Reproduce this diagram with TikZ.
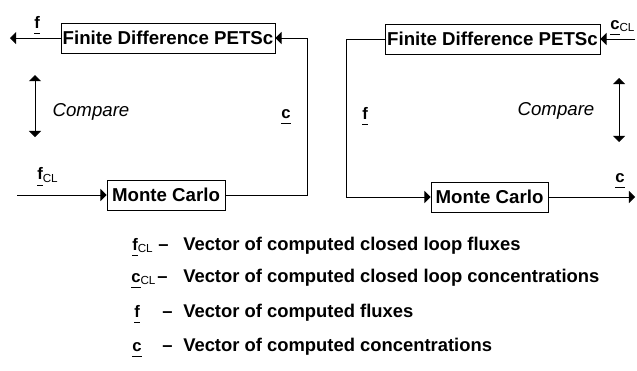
\documentclass[tikz,border=0pt]{standalone}
\usepackage{fontspec}
\setmainfont{Liberation Sans}
\usetikzlibrary{arrows}
\newcommand{\vsym}[1]{$\underline{\mbox{\bfseries #1}\vphantom{p}}$}

\begin{document}
\begin{tikzpicture}[x=0.75pt,y=-0.75pt,
		box/.style={draw=black,line width=0.6pt,inner sep=0pt,minimum height=22.5pt,font=\bfseries\fontsize{14}{16}\selectfont},
		flow/.style={draw=black,line width=0.6pt,-triangle 90},
		both/.style={draw=black,line width=0.6pt,triangle 90-triangle 90},
		sym/.style={inner sep=0pt,anchor=base west,font=\fontsize{12.5}{14}\selectfont},
		cmp/.style={inner sep=0pt,anchor=base,font=\itshape\fontsize{14}{16}\selectfont},
		legend/.style={inner sep=0pt,anchor=base west,font=\bfseries\fontsize{13.8}{16}\selectfont}]

		\useasboundingbox (0,0) rectangle (637,371);

		\node[box,minimum width=160.5pt] (fdL) at (168,38) {Finite Difference PETSc};
		\node[box,minimum width=88.5pt] (mcL) at (166,195) {Monte Carlo};
		\node[box,minimum width=161.25pt] (fdR) at (492.5,39) {Finite Difference PETSc};
		\node[box,minimum width=87.75pt] (mcR) at (489.5,197) {Monte Carlo};

		\coordinate (outL) at (10,38);
		\coordinate (inL) at (17,195);
		\coordinate (loopL) at (307,0);
		\coordinate (inR) at (635,39);
		\coordinate (outR) at (635,197);
		\coordinate (loopR) at (346,0);
		\coordinate (cmpLa) at (35,75);
		\coordinate (cmpLb) at (35,137);
		\coordinate (cmpRa) at (619,78);
		\coordinate (cmpRb) at (619,142);

		\draw[flow] (fdL.west) -- (outL);
		\draw[flow] (inL) -- (mcL.west);
		\draw[flow] (mcL.east) -- (mcL.east -| loopL) |- (fdL.east);
		\draw[both] (cmpLa) -- (cmpLb);

		\draw[flow] (inR) -- (fdR.east);
		\draw[flow] (fdR.west) -- (fdR.west -| loopR) |- (mcR.west);
		\draw[flow] (mcR.east) -- (outR);
		\draw[both] (cmpRa) -- (cmpRb);

		\node[sym] (labf) at (34,28) {\vsym{f}};
		\node[sym] (labc) at (281,118) {\vsym{c}};
		\node[sym] (labfcl) at (37,180) {\vsym{f}\textsubscript{CL}};
		\node[sym] (labccl) at (610,29) {\vsym{c}\textsubscript{CL}};
		\node[sym] (labrf) at (362,119) {\vsym{f}};
		\node[sym] (labrc) at (615,182) {\vsym{c}};

		\node[cmp] (cmpL) at (91,117) {Compare};
		\node[cmp] (cmpR) at (556,115) {Compare};

		\node[sym] (keyfcl) at (132,250) {\vsym{f}\textsubscript{CL}};
		\node[legend] (dashfcl) at (158,250) {--};
		\node[legend] (txtfcl) at (183,250) {Vector of computed closed loop fluxes};

		\node[sym] (keyccl) at (131,282) {\vsym{c}\textsubscript{CL}};
		\node[legend] (dashccl) at (157,282) {--};
		\node[legend] (txtccl) at (183,282) {Vector of computed closed loop concentrations};

		\node[sym] (keyf) at (134,317) {\vsym{f}};
		\node[legend] (dashf) at (162,317) {--};
		\node[legend] (txtf) at (183,317) {Vector of computed fluxes};

		\node[sym] (keyc) at (132,351) {\vsym{c}};
		\node[legend] (dashc) at (162,351) {--};
		\node[legend] (txtc) at (183,351) {Vector of computed concentrations};

\end{tikzpicture}
\end{document}
